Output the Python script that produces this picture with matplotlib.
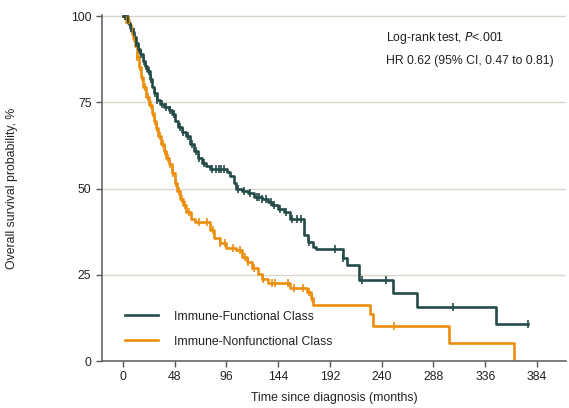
import numpy as np
import matplotlib
matplotlib.use("Agg")
import matplotlib.pyplot as plt

plt.rcParams['font.family'] = ['Liberation Sans', 'DejaVu Sans']

# ---- data (step curves: time in months, survival %) ----
func_t = [0, 2.8, 4.6, 6.5, 8.3, 10.2, 12, 13.9, 15.8, 18.5, 20.4, 22.3, 25, 26.9, 28.8,
          31.5, 34.3, 38, 42.7, 45.4, 48.2, 51, 54.7, 58.4, 62.1, 65.9, 69.6, 73.3, 77,
          80.7, 96.5, 99.2, 103, 104.8, 110.4, 116, 121.5, 129, 134.5, 138.2, 143.8, 149.3,
          154.9, 168, 172, 176.2, 179, 204, 207.8, 218.9, 250.4, 272.7, 346, 375.6]
func_s = [100, 99.1, 98, 96.5, 95.4, 93.9, 92.2, 90.5, 89, 87, 85.5, 84.1, 81.8, 79.5, 77.7,
          75.7, 74.6, 73.7, 72.8, 71.7, 69.7, 67.9, 66.5, 65.3, 63, 61, 59, 57.5, 56.4,
          55.8, 54.9, 53.5, 51.7, 50, 49.4, 48.6, 47.7, 47.1, 46.2, 45.1, 44.2, 43.1,
          41.2, 36.5, 34.5, 33.2, 32.4, 30, 27.8, 23.4, 19.7, 15.6, 10.7, 10.7]

nonf_t = [0, 2.8, 5.6, 7.4, 9.3, 11.1, 13, 14.8, 16.7, 18.5, 21.3, 24.1, 26.9, 28.8, 30.6,
          32.5, 35.2, 38, 39.9, 42.7, 45.4, 48.2, 50.1, 52.9, 55.6, 58.4, 63, 66.8, 80.7,
          84.4, 90, 95.5, 104.8, 110.4, 115, 119.6, 125.2, 128.9, 134.5, 154.9, 170.7,
          174.4, 176.2, 229, 231.9, 302.4, 362.6]
nonf_s = [100, 98.8, 97.4, 95.7, 93.6, 91.3, 88.2, 85.3, 82.4, 79.5, 76.6, 74.3, 72, 69.7, 67.6,
          65.3, 63, 61, 59, 57.2, 54.6, 51.7, 49.4, 47.1, 45.1, 43.1, 41.3, 40.2, 37.9,
          35.8, 34.1, 32.9, 32.1, 30.3, 28.6, 26.9, 25.1, 23.7, 22.5, 21.1, 19.9,
          18.2, 16.2, 13.6, 10.1, 5.2, 0]

func_cens = [2, 4.5, 7.5, 10, 12, 14.5, 16.5, 19.5, 21, 24, 26, 30, 32, 36, 40, 44, 47,
             53, 56, 60, 64, 68, 71, 75, 83, 86, 89, 91, 94, 107, 112, 118, 124, 126,
             129, 133, 137, 140, 146, 151, 157, 161, 165, 173, 197, 204, 222, 244, 306, 375.6]
nonf_cens = [3, 5.5, 8.5, 10.5, 13, 16, 17.5, 20.5, 23, 26, 27.5, 29.5, 31.5, 34, 37, 39,
             42, 43.5, 46.5, 49, 52, 55, 57.5, 61, 71, 78, 84, 90, 95, 102, 109, 113, 116,
             122, 130, 138, 141, 153, 159, 167, 173, 175, 251]

legend_labels = ['Immune-Functional Class', 'Immune-Nonfunctional Class']
xticks = [0, 48, 96, 144, 192, 240, 288, 336, 384]
yticks = [0, 25, 50, 75, 100]

teal = '#244b48'
orange = '#ec8e0c'
FS = 8.8


def surv_at(ts, ss, t):
    idx = np.searchsorted(np.asarray(ts), t, side='right') - 1
    return np.asarray(ss)[idx]


fig = plt.figure(figsize=(5.69, 4.08), dpi=100)
ax = fig.add_axes([0.179, 0.115, 0.816, 0.849])

for yv in yticks[1:]:
    ax.axhline(yv, color='#d9d6cc', lw=1.0, zorder=0)

ax.step(func_t, func_s, where='post', color=teal, lw=1.9, zorder=3, label=legend_labels[0])
ax.step(nonf_t, nonf_s, where='post', color=orange, lw=1.9, zorder=2, label=legend_labels[1])

ax.plot(func_cens, surv_at(func_t, func_s, func_cens), ls='none', marker='|',
        ms=6, mew=1.2, color=teal, zorder=4)
ax.plot(nonf_cens, surv_at(nonf_t, nonf_s, nonf_cens), ls='none', marker='|',
        ms=6, mew=1.2, color=orange, zorder=3)

ax.set_xlim(-19.5, 411)
ax.set_ylim(0, 100.4)
ax.set_xticks(xticks)
ax.set_yticks(yticks)
ax.tick_params(axis='both', labelsize=FS, color='#555555', length=4, width=1, labelcolor='#222222')
for s in ['top', 'right']:
    ax.spines[s].set_visible(False)
for s in ['left', 'bottom']:
    ax.spines[s].set_color('#666666')
    ax.spines[s].set_linewidth(1.2)

ax.set_xlabel('Time since diagnosis (months)', fontsize=FS, color='#222222', labelpad=6)
ax.set_ylabel('Overall survival probability, %', fontsize=FS, color='#222222', labelpad=38)

ax.text(0.612, 0.934, 'Log-rank test, $\\mathit{P}$<.001', transform=ax.transAxes,
        fontsize=FS, color='#222222', va='center')
ax.text(0.612, 0.867, 'HR 0.62 (95% CI, 0.47 to 0.81)', transform=ax.transAxes,
        fontsize=FS, color='#222222', va='center')

leg = ax.legend(loc='lower left', bbox_to_anchor=(0.039, 0.025), frameon=False, fontsize=FS,
                handlelength=2.7, handletextpad=1.3, labelspacing=1.05,
                borderaxespad=0.0, labelcolor='#222222')

fig.savefig('out.png', dpi=100)
